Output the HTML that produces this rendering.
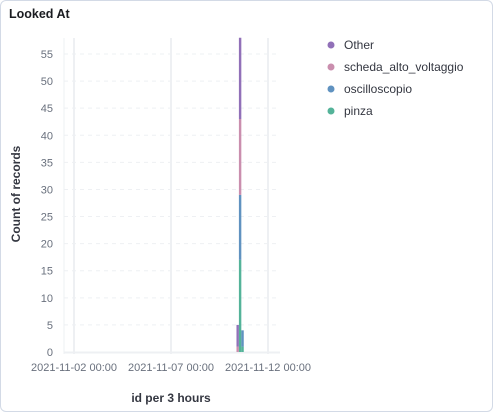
<!DOCTYPE html>
<html><head><meta charset="utf-8"><style>
body{margin:0;background:#fff;font-family:"Liberation Sans",sans-serif;}
#card{position:absolute;left:0;top:0;width:491px;height:410px;border:1px solid #d3dae6;border-radius:6px;}
</style></head><body>
<div id="card"></div>
<svg id="svg" width="493" height="412" style="position:absolute;left:0;top:0" font-family="Liberation Sans, sans-serif">
<text x="9" y="18" font-size="12.5" font-weight="bold" fill="#1a1c21">Looked At</text>
<text transform="translate(20,194) rotate(-90)" text-anchor="middle" font-size="12" font-weight="bold" fill="#343741">Count of records</text>
<text x="171" y="402" text-anchor="middle" font-size="12" font-weight="bold" fill="#343741">id per 3 hours</text>
<g id="grid"></g><g id="bars"></g><g id="legend"></g>
</svg>
<script>
const yTicks=[0,5,10,15,20,25,30,35,40,45,50,55];
const xTickLabels=["2021-11-02 00:00","2021-11-07 00:00","2021-11-12 00:00"];
const xTickDays=[0,5,10];
const binDays=[8.375,8.5,8.625];
const seriesNames=["pinza","oscilloscopio","scheda_alto_voltaggio","Other"];
const pinza=[0,17,1];
const oscilloscopio=[0,12,3];
const scheda=[1,14,0];
const other=[4,15,0];
const colors=["#54b399","#6092c0","#ca8eae","#9170b8"];
const NS="http://www.w3.org/2000/svg";
const y0=352,yPer=298/55,x0=74,dayPx=19.4;
const ys=v=>y0-v*yPer, xs=d=>x0+d*dayPx;
function mk(t,a,p){const e=document.createElementNS(NS,t);for(const k in a)e.setAttribute(k,a[k]);p.appendChild(e);return e;}
const grid=document.getElementById('grid');
mk('line',{x1:64,x2:64,y1:38,y2:354,stroke:'#eef0f3','stroke-width':1},grid);
yTicks.forEach(v=>{
 if(v>0){const l=mk('line',{x1:64,x2:280,y1:ys(v),y2:ys(v),stroke:'#eef0f3','stroke-dasharray':'4 4'},grid);
 
 }
 const t=mk('text',{x:53,y:ys(v)+4,'text-anchor':'end','font-size':11,fill:'#69707d'},grid);t.textContent=v;
 
 
});
mk('line',{x1:64,x2:280,y1:y0+0.5,y2:y0+0.5,stroke:'#eef0f3','stroke-width':2},grid);
xTickDays.forEach((d,i)=>{
 mk('line',{x1:xs(d),x2:xs(d),y1:38,y2:354,stroke:'#eef0f3','stroke-width':2},grid);
 const t=mk('text',{x:xs(d),y:371,'text-anchor':'middle','font-size':11,fill:'#69707d'},grid);t.textContent=xTickLabels[i];
 
 
});
const bars=document.getElementById('bars');
const all=[pinza,oscilloscopio,scheda,other];
binDays.forEach((d,i)=>{
 let acc=0;
 all.forEach((s,k)=>{
  if(s[i]>0){
   const r=mk('rect',{x:xs(d),y:ys(acc+s[i]),width:dayPx*0.125,height:s[i]*yPer,fill:colors[k]},bars);
   
   
  }
  acc+=s[i];
 });
});
const lg=document.getElementById('legend');
const order=[3,2,1,0];
order.forEach((k,j)=>{
 const g=mk('g',{},lg);
 
 
 mk('circle',{cx:331,cy:45+j*22,r:3.5,fill:colors[k]},g);
 const t=mk('text',{x:344,y:49+j*22,'font-size':12,fill:'#343741'},g);t.textContent=seriesNames[k];
});
</script>
</body></html>
